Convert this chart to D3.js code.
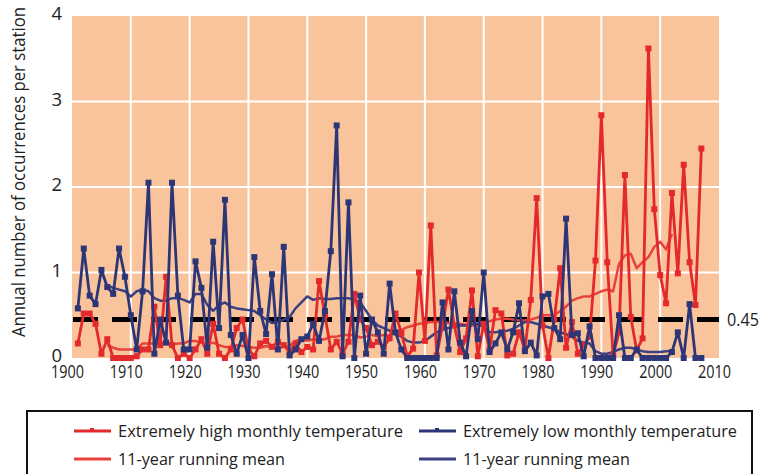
<!DOCTYPE html>
<html>
<head>
<meta charset="utf-8">
<script src="https://cdn.jsdelivr.net/npm/d3@7"></script>
<style>
	body { margin: 0; background: #ffffff; }
	svg { display: block; }
</style>
</head>
<body>
<script>
// years 1901..2007
const years = d3.range(1901, 2008);

// extremely high monthly temperature (occurrences per station)
const highValues = [
	0.17, 0.52, 0.52, 0.40, 0.05, 0.22, 0.00, 0.00, 0.00, 0.00,
	0.02, 0.10, 0.10, 0.60, 0.15, 0.95, 0.15, 0.00, 0.05, 0.00,
	0.10, 0.22, 0.05, 0.40, 0.05, 0.00, 0.10, 0.35, 0.45, 0.10,
	0.02, 0.17, 0.20, 0.13, 0.19, 0.15, 0.07, 0.17, 0.07, 0.13,
	0.10, 0.90, 0.50, 0.10, 0.19, 0.05, 0.19, 0.75, 0.45, 0.35,
	0.15, 0.19, 0.13, 0.23, 0.52, 0.29, 0.02, 0.11, 1.00, 0.20,
	1.55, 0.03, 0.38, 0.80, 0.38, 0.07, 0.23, 0.79, 0.02, 0.40,
	0.10, 0.56, 0.52, 0.03, 0.05, 0.30, 0.10, 0.68, 1.87, 0.38,
	0.00, 0.45, 1.05, 0.12, 0.42, 0.05, 0.15, 0.25, 1.14, 2.84,
	1.12, 0.03, 0.30, 2.14, 0.48, 0.09, 0.23, 3.62, 1.74, 0.97,
	0.64, 1.93, 0.99, 2.26, 1.12, 0.62, 2.45
];

// extremely low monthly temperature
const lowValues = [
	0.58, 1.28, 0.73, 0.63, 1.03, 0.83, 0.75, 1.28, 0.95, 0.50,
	0.10, 0.78, 2.05, 0.05, 0.45, 0.18, 2.05, 0.73, 0.10, 0.10,
	1.13, 0.82, 0.12, 1.36, 0.35, 1.85, 0.27, 0.05, 0.27, 0.00,
	1.18, 0.55, 0.28, 0.98, 0.10, 1.30, 0.03, 0.10, 0.22, 0.25,
	0.40, 0.20, 0.55, 1.25, 2.72, 0.02, 1.82, 0.00, 0.73, 0.05,
	0.45, 0.30, 0.05, 0.87, 0.30, 0.10, 0.00, 0.00, 0.00, 0.00,
	0.00, 0.00, 0.65, 0.10, 0.78, 0.18, 0.02, 0.55, 0.22, 1.00,
	0.07, 0.17, 0.30, 0.10, 0.30, 0.64, 0.08, 0.18, 0.03, 0.72,
	0.75, 0.35, 0.22, 1.63, 0.27, 0.29, 0.02, 0.37, 0.00, 0.00,
	0.00, 0.00, 0.50, 0.00, 0.00, 0.10, 0.00, 0.00, 0.00, 0.00,
	0.00, 0.07, 0.30, 0.00, 0.63, 0.00, 0.00
];

// 11-year running means, years 1906..2002
const meanYears = d3.range(1906, 2003);
const highMean = [
	0.15, 0.12, 0.10, 0.10, 0.10, 0.10, 0.17, 0.17, 0.17, 0.18,
	0.18, 0.16, 0.17, 0.17, 0.20, 0.20, 0.18, 0.16, 0.18, 0.15,
	0.13, 0.13, 0.15, 0.14, 0.13, 0.12, 0.12, 0.14, 0.12, 0.12,
	0.13, 0.14, 0.20, 0.22, 0.20, 0.22, 0.21, 0.22, 0.25, 0.25,
	0.27, 0.27, 0.27, 0.24, 0.25, 0.27, 0.25, 0.27, 0.26, 0.30,
	0.33, 0.36, 0.38, 0.40, 0.41, 0.42, 0.42, 0.42, 0.41, 0.40,
	0.40, 0.39, 0.38, 0.39, 0.41, 0.43, 0.45, 0.46, 0.46, 0.45,
	0.44, 0.44, 0.45, 0.47, 0.50, 0.50, 0.50, 0.55, 0.60, 0.67,
	0.70, 0.72, 0.72, 0.75, 0.78, 0.80, 0.78, 1.10, 1.20, 1.22,
	1.05, 1.12, 1.18, 1.30, 1.36, 1.27, 1.45
];
const lowMean = [
	0.85, 0.82, 0.80, 0.78, 0.72, 0.78, 0.80, 0.78, 0.70, 0.67,
	0.67, 0.70, 0.70, 0.68, 0.65, 0.75, 0.75, 0.62, 0.55, 0.62,
	0.65, 0.60, 0.58, 0.57, 0.56, 0.55, 0.50, 0.45, 0.41, 0.42,
	0.45, 0.48, 0.58, 0.65, 0.72, 0.68, 0.70, 0.69, 0.69, 0.70,
	0.70, 0.70, 0.68, 0.65, 0.55, 0.45, 0.38, 0.35, 0.32, 0.28,
	0.25, 0.20, 0.18, 0.18, 0.20, 0.25, 0.30, 0.33, 0.35, 0.37,
	0.38, 0.38, 0.40, 0.40, 0.36, 0.30, 0.30, 0.31, 0.32, 0.34,
	0.38, 0.42, 0.42, 0.40, 0.38, 0.36, 0.34, 0.30, 0.28, 0.25,
	0.20, 0.18, 0.17, 0.08, 0.05, 0.05, 0.07, 0.10, 0.12, 0.12,
	0.10, 0.08, 0.07, 0.07, 0.07, 0.08, 0.08
];

const xTicks = [1900, 1910, 1920, 1930, 1940, 1950, 1960, 1970, 1980, 1990, 2000, 2010];
const yTicks = [0, 1, 2, 3, 4];
const threshold = 0.45;

const legendItems = [
	{label: "Extremely high monthly temperature", color: "#e3292c", marker: true},
	{label: "Extremely low monthly temperature", color: "#2c3676", marker: true},
	{label: "11-year running mean", color: "#e8423c", marker: false},
	{label: "11-year running mean", color: "#3c3f82", marker: false}
];

const font = "'Open Sans', 'Noto Sans', sans-serif";

const svg = d3.select("body").append("svg")
	.attr("width", 765)
	.attr("height", 474);

const x = d3.scaleLinear().domain([1900, 2010]).range([72, 719]);
const y = d3.scaleLinear().domain([0, 4]).range([358, 16]);

// plot background
svg.append("rect")
	.attr("x", x(1900))
	.attr("y", y(4))
	.attr("width", x(2010) - x(1900))
	.attr("height", y(0) - y(4))
	.attr("fill", "#f9c49b");

// white grid
svg.append("g")
	.selectAll("line")
	.data(xTicks.slice(1, -1))
	.join("line")
	.attr("x1", d => x(d)).attr("x2", d => x(d))
	.attr("y1", y(4)).attr("y2", y(0))
	.attr("stroke", "#ffffff")
	.attr("stroke-width", 2);

svg.append("g")
	.selectAll("line")
	.data(yTicks.slice(1, -1))
	.join("line")
	.attr("x1", x(1900)).attr("x2", x(2010))
	.attr("y1", d => y(d)).attr("y2", d => y(d))
	.attr("stroke", "#ffffff")
	.attr("stroke-width", 2);

// axes (labels only)
const xAxis = svg.append("g")
	.attr("transform", `translate(0,${y(0)})`)
	.call(d3.axisBottom(x).tickValues(xTicks).tickFormat(d3.format("d")).tickSize(0).tickPadding(7));
xAxis.select(".domain").remove();
xAxis.selectAll("text")
	.attr("dx", -5)
	.attr("font-family", font)
	.attr("font-size", 18.5)
	.attr("textLength", 33)
	.attr("lengthAdjust", "spacingAndGlyphs")
	.attr("fill", "#222");

const yAxis = svg.append("g")
	.attr("transform", `translate(${x(1900)},0)`)
	.call(d3.axisLeft(y).tickValues(yTicks).tickFormat(d3.format("d")).tickSize(0).tickPadding(10));
yAxis.select(".domain").remove();
yAxis.selectAll("text")
	.attr("dy", "0.2em")
	.attr("font-family", font)
	.attr("font-size", 18.5)
	.attr("fill", "#222");

svg.append("text")
	.attr("transform", `translate(25,${172}) rotate(-90)`)
	.attr("text-anchor", "middle")
	.attr("font-family", font)
	.attr("font-size", 17.5)
	.attr("textLength", 330)
	.attr("lengthAdjust", "spacingAndGlyphs")
	.attr("fill", "#222")
	.text("Annual number of occurrences per station");

// 0.45 threshold
svg.append("line")
	.attr("x1", x(1900) + 1).attr("x2", x(2010))
	.attr("y1", y(threshold)).attr("y2", y(threshold))
	.attr("stroke", "#000")
	.attr("stroke-width", 5)
	.attr("stroke-dasharray", "25,14");

svg.append("text")
	.attr("x", 727)
	.attr("y", y(threshold))
	.attr("dy", "0.35em")
	.attr("font-family", font)
	.attr("font-size", 18)
	.attr("textLength", 32)
	.attr("lengthAdjust", "spacingAndGlyphs")
	.attr("fill", "#222")
	.text("0.45");

// series
const line = d3.line().x(d => x(d[0])).y(d => y(d[1]));

function drawMean(yrs, vals, color) {
	svg.append("path")
		.datum(d3.zip(yrs, vals))
		.attr("d", line)
		.attr("fill", "none")
		.attr("stroke", color)
		.attr("stroke-width", 2.5)
		.attr("stroke-linejoin", "round");
}

function drawSeries(vals, color) {
	const pts = d3.zip(years, vals);
	svg.append("path")
		.datum(pts)
		.attr("d", line)
		.attr("fill", "none")
		.attr("stroke", color)
		.attr("stroke-width", 2.8)
		.attr("stroke-linejoin", "round");
	svg.append("g")
		.selectAll("rect")
		.data(pts)
		.join("rect")
		.attr("x", d => x(d[0]) - 3)
		.attr("y", d => y(d[1]) - 3)
		.attr("width", 6)
		.attr("height", 6)
		.attr("fill", color);
}

drawMean(meanYears, highMean, legendItems[2].color);
drawMean(meanYears, lowMean, legendItems[3].color);
drawSeries(highValues, legendItems[0].color);
drawSeries(lowValues, legendItems[1].color);

// legend
svg.append("rect")
	.attr("x", 27)
	.attr("y", 411)
	.attr("width", 725)
	.attr("height", 80)
	.attr("fill", "none")
	.attr("stroke", "#111")
	.attr("stroke-width", 2);

const legendPos = [[74, 431], [419, 431], [74, 459], [419, 459]];
const legendWidths = [285, 274, 167, 167];
legendItems.forEach((it, i) => {
	const [lx, ly] = legendPos[i];
	svg.append("line")
		.attr("x1", lx).attr("x2", lx + 37)
		.attr("y1", ly).attr("y2", ly)
		.attr("stroke", it.color)
		.attr("stroke-width", 2.8);
	if (it.marker) {
		svg.append("rect")
			.attr("x", lx + 16).attr("y", ly - 3)
			.attr("width", 4).attr("height", 4)
			.attr("fill", it.color);
	}
	svg.append("text")
		.attr("x", lx + 44)
		.attr("y", ly)
		.attr("dy", "0.35em")
		.attr("font-family", font)
		.attr("font-size", 17)
		.attr("textLength", legendWidths[i])
		.attr("lengthAdjust", "spacingAndGlyphs")
		.attr("fill", "#222")
		.text(it.label);
});
</script>
</body>
</html>
